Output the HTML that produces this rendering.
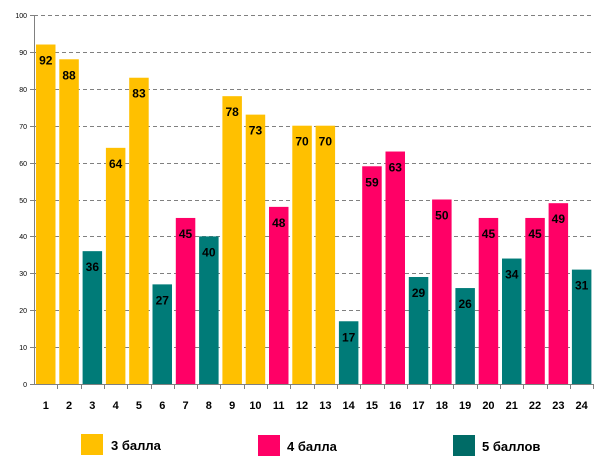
<!DOCTYPE html>
<html><head><meta charset="utf-8"><style>
html,body{margin:0;padding:0;background:#fff;}
svg{display:block;font-family:"Liberation Sans",sans-serif;}
</style></head><body>
<svg width="604" height="465" xmlns="http://www.w3.org/2000/svg">
<g id="grid" stroke="#808080" stroke-dasharray="4,3" stroke-width="1"></g>
<g id="bars"></g>
<line x1="34.5" y1="15" x2="34.5" y2="384" stroke="#808080"/>
<line x1="34" y1="384.5" x2="594" y2="384.5" stroke="#808080"/>
<g id="ticks" stroke="#808080"></g>
<g id="ylab" font-size="7" text-anchor="end" fill="#000"></g>
<g id="xlab" font-size="12" font-weight="bold" text-anchor="middle" fill="#000"></g>
<rect x="81" y="434" width="22" height="21" fill="#FFC000"/>
<text x="111" y="450" font-size="13" font-weight="bold">3 балла</text>
<rect x="258" y="435" width="22" height="21" fill="#FF0066"/>
<text x="287" y="451" font-size="13" font-weight="bold">4 балла</text>
<rect x="453" y="435" width="22" height="21" fill="#006B66"/>
<text x="482" y="451" font-size="13" font-weight="bold">5 баллов</text>
<script>
var ns="http://www.w3.org/2000/svg";
function el(p,t,a,txt){var e=document.createElementNS(ns,t);for(var k in a)e.setAttribute(k,a[k]);if(txt!==undefined)e.textContent=txt;document.getElementById(p).appendChild(e);}
var x0=34,cw=23.3,y0=384,s=3.69;
for(var v=0;v<=100;v+=10){var y=Math.round(y0-v*s)+0.5;
 if(v>0)el("grid","line",{x1:34,x2:594,y1:y,y2:y});
 el("ticks","line",{x1:30,x2:34,y1:y,y2:y});
 el("ylab","text",{x:27,y:y+2.5},v);}
var vals=[92,88,36,64,83,27,45,40,78,73,48,70,70,17,59,63,29,50,26,45,34,45,49,31];
var c="YYTYYTPTYYPYYTPPTPTPTPPT";
var col={Y:"#FFC000",P:"#FF0066",T:"#007B78"};
for(var i=0;i<24;i++){var x=x0+i*cw+2,h=vals[i]*s;
 el("bars","rect",{x:x,y:y0-h,width:19.5,height:h,fill:col[c[i]]});
 el("xlab","text",{x:x+9.75,y:409,"font-size":11,"font-weight":"bold","text-anchor":"middle"},i+1);
 el("xlab","text",{x:x+9.75,y:y0-h+20},vals[i]);
 el("ticks","line",{x1:Math.round(x0+(i+1)*cw)+0.5,x2:Math.round(x0+(i+1)*cw)+0.5,y1:384,y2:389});}
</script>
</svg>
</body></html>
